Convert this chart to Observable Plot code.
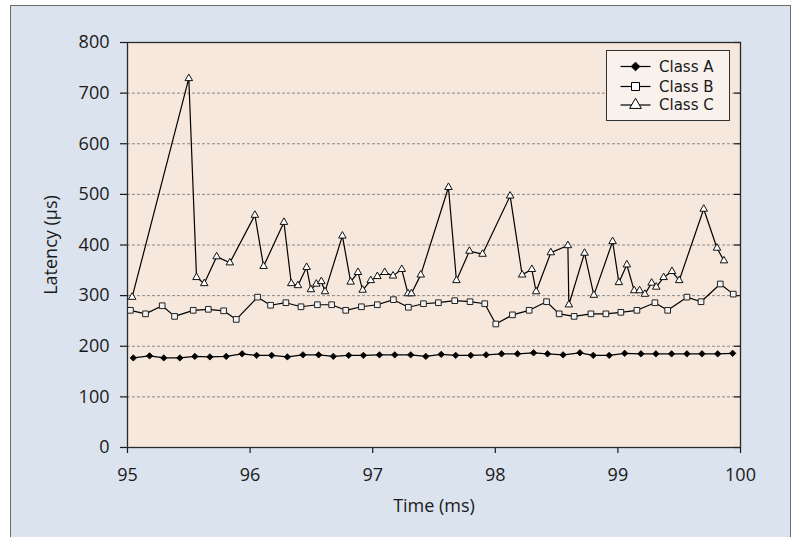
<!DOCTYPE html>
<html><head><meta charset="utf-8">
<script src="https://cdn.jsdelivr.net/npm/d3@7"></script>
<script src="https://cdn.jsdelivr.net/npm/@observablehq/plot@0.6"></script>
<style>
html,body{margin:0;padding:0;background:#fff;}
#wrap{position:relative;width:798px;height:537px;overflow:hidden;font-family:"Open Sans",sans-serif;}
#panel{position:absolute;left:10px;top:5px;width:781px;height:620px;background:#dbe3ee;border:1.5px solid #6d6d6d;box-sizing:border-box;}
#chart{position:absolute;left:0;top:0;}
#legend{position:absolute;left:606px;top:50px;width:124px;height:71px;box-sizing:border-box;border:1.5px solid #333;background:#f9f1ec;}
</style></head><body>
<div id="wrap"><div id="panel"></div><div id="chart"></div><div id="legend"></div></div>
<script>
const seriesNames = ["Class A", "Class B", "Class C"];
const xTicks = [95, 96, 97, 98, 99, 100];
const yTicks = [0, 100, 200, 300, 400, 500, 600, 700, 800];
const gridValues = [100, 200, 300, 400, 500, 600, 700];

const timeA = [95.047,95.180,95.296,95.427,95.549,95.672,95.805,95.935,96.053,96.176,96.304,96.431,96.559,96.679,96.804,96.924,97.055,97.180,97.310,97.433,97.559,97.677,97.800,97.925,98.051,98.181,98.312,98.426,98.553,98.690,98.799,98.929,99.055,99.188,99.310,99.438,99.563,99.686,99.814,99.936];
const latA = [177,181,177,177,180,179,180,185,182,182,179,183,183,180,182,182,183,183,183,180,184,182,182,183,185,185,187,185,183,187,182,182,186,185,185,185,185,185,185,186];

const timeB = [95.024,95.147,95.283,95.384,95.536,95.659,95.784,95.887,96.061,96.167,96.292,96.415,96.549,96.665,96.780,96.908,97.038,97.169,97.291,97.414,97.536,97.669,97.794,97.914,98.004,98.140,98.276,98.418,98.521,98.643,98.780,98.902,99.024,99.155,99.302,99.406,99.563,99.678,99.835,99.941];
const latB = [271,264,280,259,271,273,270,253,297,281,286,278,282,282,271,278,282,292,277,284,286,290,288,284,244,262,271,288,264,259,264,264,267,271,286,271,297,288,323,303];

const timeC = [95.038,95.500,95.563,95.626,95.727,95.835,96.039,96.110,96.276,96.336,96.390,96.461,96.496,96.540,96.581,96.611,96.753,96.820,96.880,96.918,96.984,97.038,97.098,97.166,97.237,97.288,97.316,97.392,97.618,97.683,97.789,97.896,98.121,98.219,98.298,98.333,98.453,98.592,98.600,98.728,98.804,98.957,99.008,99.073,99.133,99.177,99.220,99.275,99.313,99.373,99.441,99.500,99.700,99.808,99.865];
const latC = [297,729,336,324,377,365,459,358,445,324,320,356,312,323,328,308,418,327,346,311,330,338,346,339,352,304,304,341,514,330,388,382,497,341,352,308,385,399,282,384,301,407,326,361,310,310,303,325,317,336,348,330,471,394,369];

const rowsA = timeA.map((t, i) => ({t, v: latA[i]}));
const rowsB = timeB.map((t, i) => ({t, v: latB[i]}));
const rowsC = timeC.map((t, i) => ({t, v: latC[i]}));

const plot = Plot.plot({
  width: 798, height: 537,
  marginLeft: 127, marginRight: 58, marginTop: 42, marginBottom: 90,
  style: {background: "transparent", fontFamily: "'Open Sans', sans-serif", fontSize: "18px", color: "#1a1a1a", overflow: "visible"},
  x: {domain: [95, 100]},
  y: {domain: [0, 800]},
  marks: [
    Plot.frame({fill: "#f6e8dc", stroke: null}),
    Plot.ruleY(gridValues, {stroke: "#8a8a8a", strokeDasharray: "3,2", strokeWidth: 1}),
    Plot.axisX({ticks: xTicks, tickSize: 6, tickPadding: 15, tickFormat: d => String(d), fontSize: 18, label: "Time (ms)", labelAnchor: "center", labelOffset: 64, labelArrow: false, strokeWidth: 1.2}),
    Plot.axisY({ticks: yTicks, tickSize: 7, tickPadding: 11, tickFormat: d => String(d), fontSize: 18, label: "Latency (µs)", labelAnchor: "center", labelOffset: 83, labelArrow: false, strokeWidth: 1.2}),
    Plot.axisY({anchor: "right", ticks: yTicks, tickSize: -7, tickFormat: () => "", label: null, strokeWidth: 1.2}),
    Plot.frame({stroke: "#2a2a2a", strokeWidth: 1.3}),
    Plot.line(rowsA, {x: "t", y: "v", stroke: "#000", strokeWidth: 1.2}),
    Plot.dot(rowsA, {x: "t", y: "v", symbol: "diamond2", r: 2.9, fill: "#000", stroke: "#000", strokeWidth: 0.8}),
    Plot.line(rowsB, {x: "t", y: "v", stroke: "#000", strokeWidth: 1.2}),
    Plot.dot(rowsB, {x: "t", y: "v", symbol: "square", r: 3.2, fill: "#f2f2f2", stroke: "#222", strokeWidth: 1}),
    Plot.line(rowsC, {x: "t", y: "v", stroke: "#000", strokeWidth: 1.2}),
    Plot.dot(rowsC, {x: "t", y: "v", symbol: "triangle", r: 2.8, fill: "#fff", stroke: "#111", strokeWidth: 1})
  ]
});
document.getElementById("chart").appendChild(plot);

// legend
const legendSymbols = ["diamond2", "square", "triangle"];
const legendFills = ["#000", "#fff", "#fff"];
const legendSizes = [48, 64, 60];
const symMap = {diamond2: d3.symbolDiamond2, square: d3.symbolSquare, triangle: d3.symbolTriangle};
const lg = d3.select("#legend").append("svg").attr("width", 121).attr("height", 68).style("position", "absolute").style("left", "0").style("top", "0");
const rowY = [15.5, 35.5, 54];
seriesNames.forEach((name, i) => {
  const g = lg.append("g").attr("transform", `translate(0,${rowY[i]})`);
  g.append("line").attr("x1", 13.5).attr("x2", 43.5).attr("y1", 0).attr("y2", 0).attr("stroke", "#000").attr("stroke-width", 1.2);
  g.append("path").attr("d", d3.symbol(symMap[legendSymbols[i]], legendSizes[i])()).attr("transform", "translate(28.5,0)")
    .attr("fill", legendFills[i]).attr("stroke", "#000").attr("stroke-width", 1);
  g.append("text").attr("x", 52).attr("y", 0).attr("dy", "0.36em").attr("font-size", "15px").attr("fill", "#1a1a1a").attr("font-family", "'DejaVu Sans', sans-serif").text(name);
});
</script>
</body></html>
